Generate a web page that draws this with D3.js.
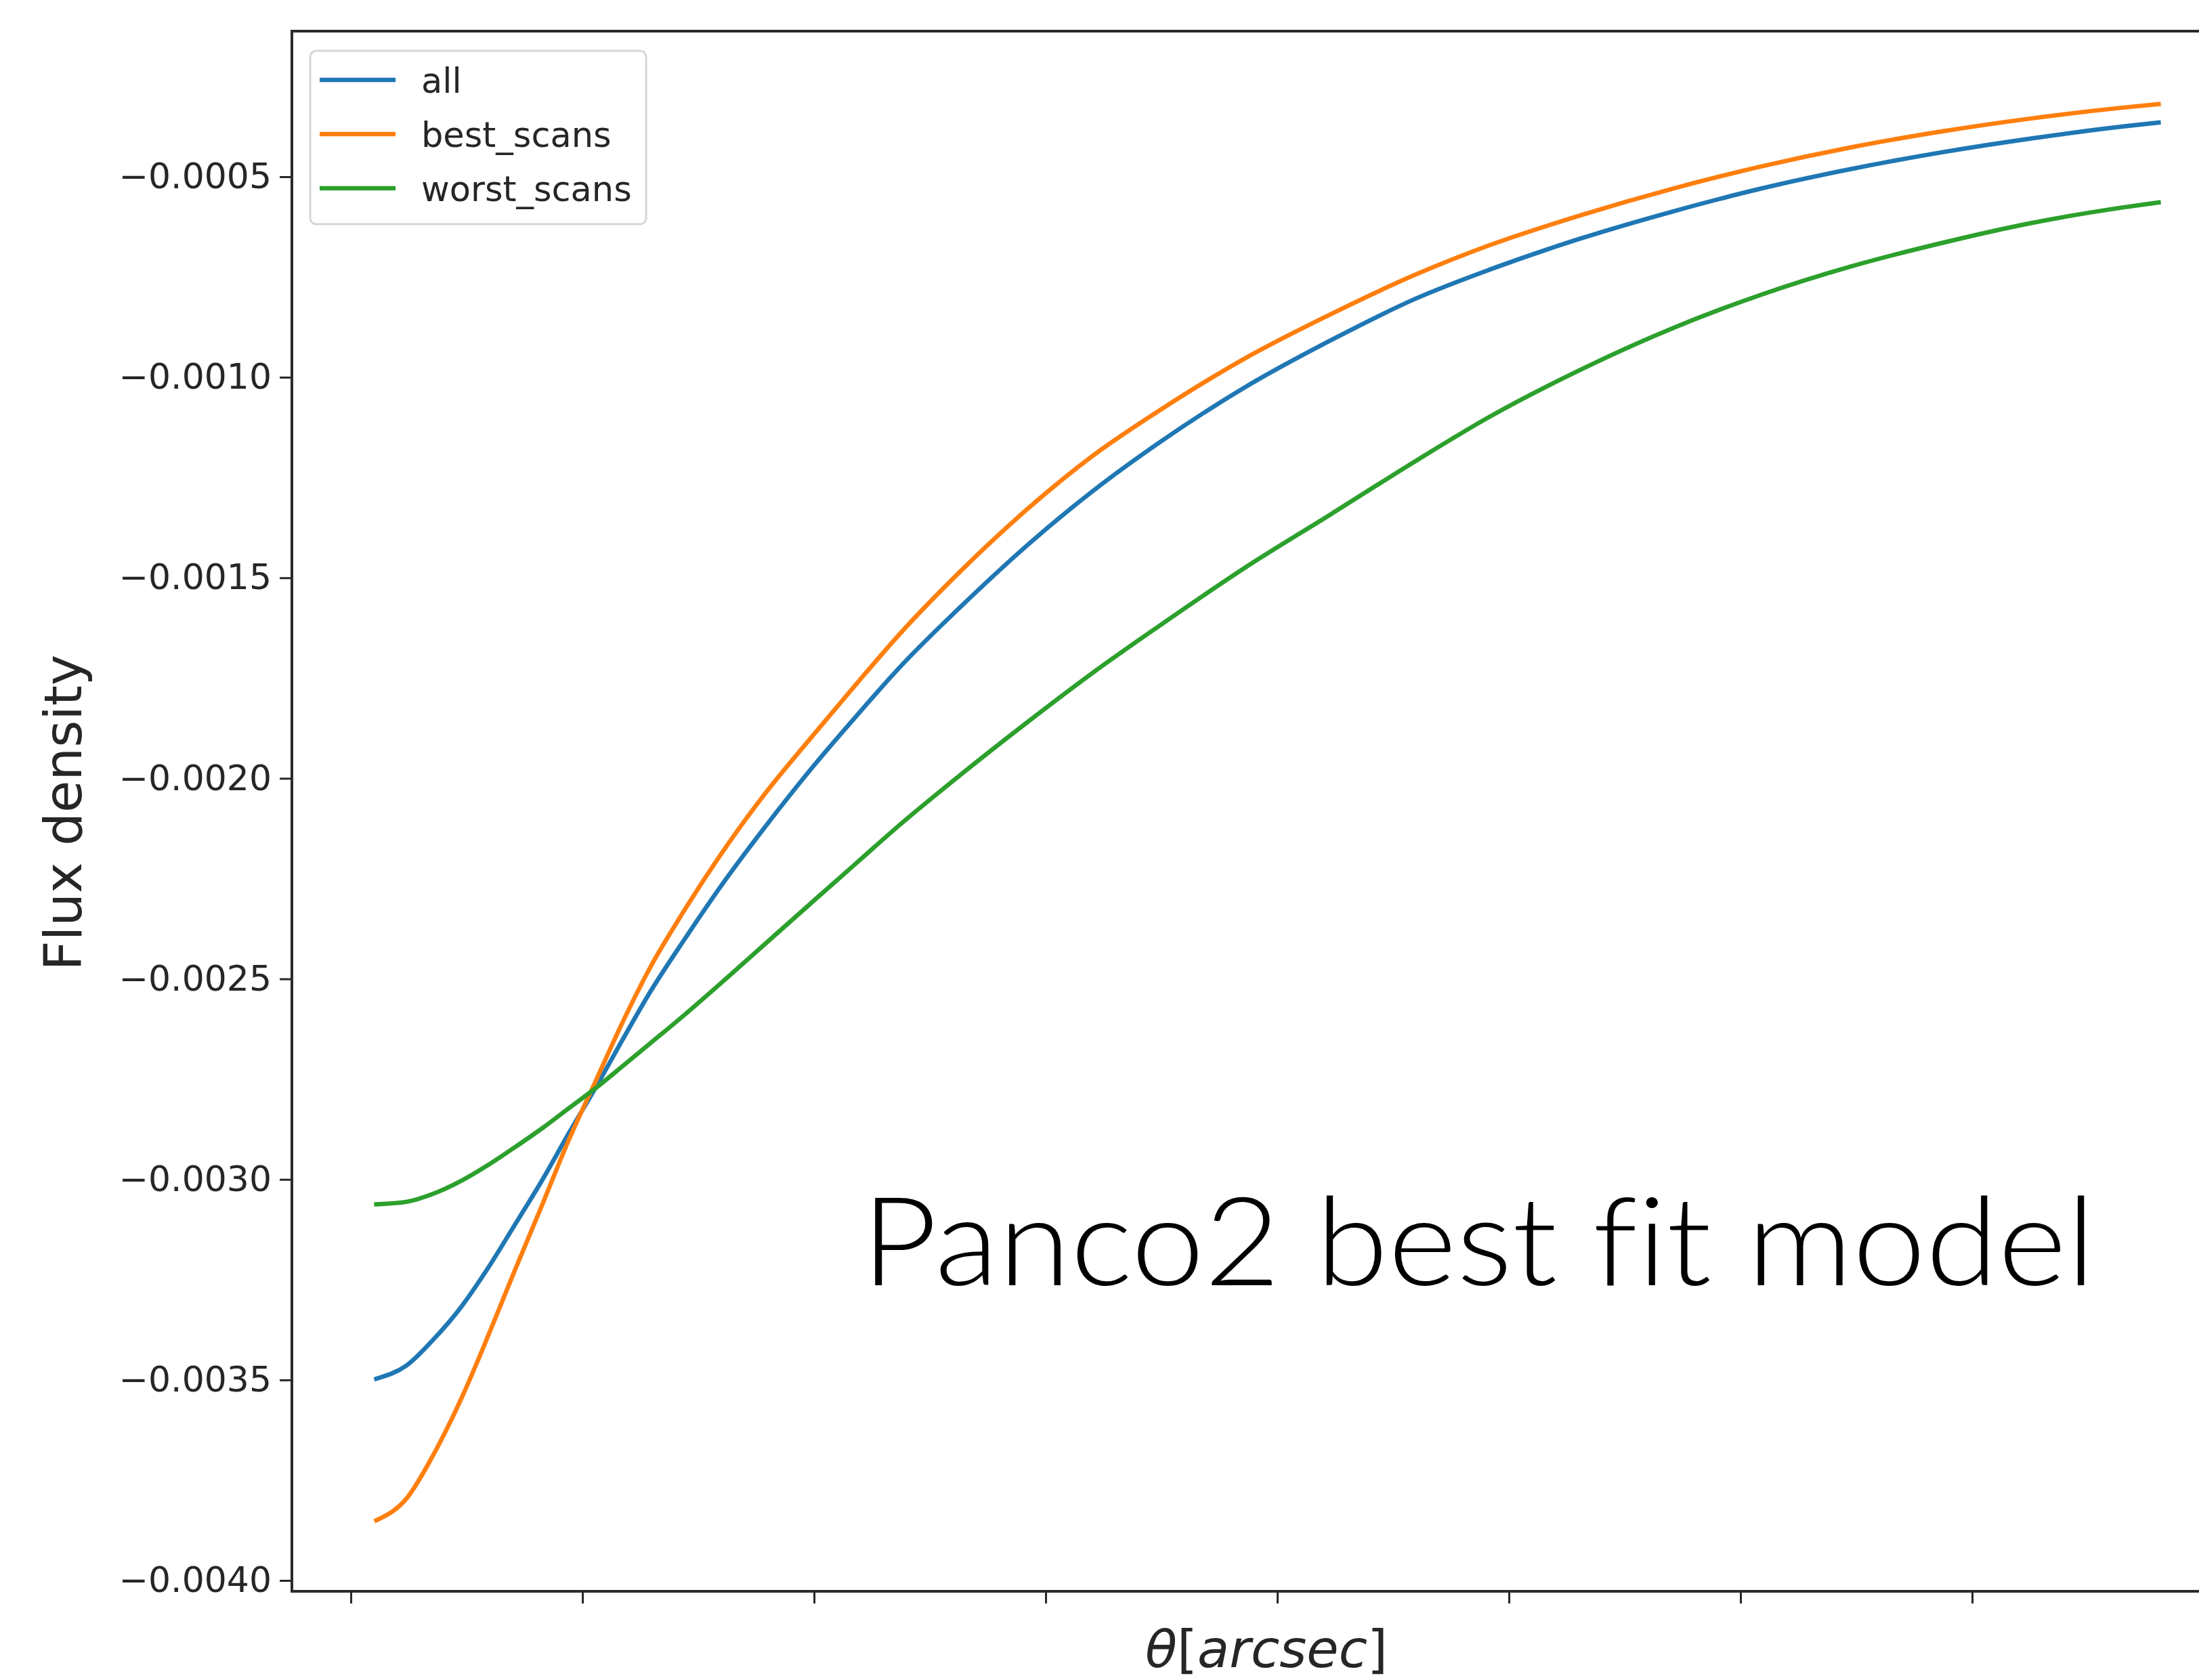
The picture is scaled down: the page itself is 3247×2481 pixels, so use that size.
<!DOCTYPE html>
<html>
<head>
<meta charset="utf-8">
<script src="https://cdn.jsdelivr.net/npm/d3@7"></script>
<style>
    body { margin: 0; background: #ffffff; }
    #charts { width: 3247px; height: 2481px; overflow: hidden; }
    .axis_text { font-family: "DejaVu Sans", sans-serif; fill: #262626; }
</style>
</head>
<body>
<div id="charts"></div>
<script>
// Radius values (arcsec).
const theta = [2.2, 4.8, 7.1, 9.5, 11.8, 14.1, 16.5, 18.8, 21.2, 23.5, 25.8, 28.8, 32.3, 35.8, 39.9, 43.7,
    47.4, 52.7, 58.6, 64.1, 69.7, 77.2, 84.6, 92.1, 98.3, 106.2, 114.1, 121.7, 129.5, 137.4, 145.0, 152.9, 156.1];

// Flux density profiles.
const all_scans = [-0.003497, -0.003464, -0.003400, -0.003319, -0.003223, -0.003116, -0.003003, -0.002886,
    -0.002768, -0.002650, -0.002535, -0.002402, -0.002255, -0.002120, -0.001971, -0.001843, -0.001723,
    -0.001571, -0.001414, -0.001283, -0.001165, -0.001025, -0.000908, -0.000802, -0.000732, -0.000654,
    -0.000587, -0.000530, -0.000481, -0.000439, -0.000405, -0.000375, -0.000365];
const best_scans = [-0.003850, -0.003796, -0.003688, -0.003549, -0.003394, -0.003231, -0.003065, -0.002903,
    -0.002751, -0.002606, -0.002474, -0.002329, -0.002175, -0.002037, -0.001893, -0.001763, -0.001640,
    -0.001482, -0.001324, -0.001195, -0.001085, -0.000953, -0.000843, -0.000742, -0.000671, -0.000596,
    -0.000530, -0.000475, -0.000427, -0.000387, -0.000355, -0.000328, -0.000319];
const worst_scans = [-0.003062, -0.003056, -0.003036, -0.003004, -0.002965, -0.002921, -0.002873, -0.002823,
    -0.002771, -0.002717, -0.002662, -0.002590, -0.002502, -0.002412, -0.002307, -0.002210, -0.002116,
    -0.001990, -0.001856, -0.001736, -0.001622, -0.001475, -0.001342, -0.001206, -0.001099, -0.000981,
    -0.000878, -0.000795, -0.000724, -0.000665, -0.000616, -0.000577, -0.000564];

const series_names = ["all", "best_scans", "worst_scans"];
const series_colors = ["#1f77b4", "#ff7f0e", "#2ca02c"];

// Axis limits and ticks.
const x_limits = [-5.09, 164.15];
const y_limits = [-0.004027, -0.000137];
const x_ticks = [0, 20, 40, 60, 80, 100, 120, 140, 160];
const y_ticks = [-0.0040, -0.0035, -0.0030, -0.0025, -0.0020, -0.0015, -0.0010, -0.0005];

function draw_profiles() {
    let svg_width = 3247, svg_height = 2481;
    let margin = { top: 46, left: 431 },
        width = 2894,
        height = 2304;

    let svg = d3.select("#charts")
        .append("svg")
            .attr("width", svg_width)
            .attr("height", svg_height)
        .append("g")
            .attr("transform", "translate(" + margin.left + "," + margin.top + ")");

    // Define scales.
    let x_scale = d3.scaleLinear().domain(x_limits).range([0, width]);
    let y_scale = d3.scaleLinear().domain(y_limits).range([height, 0]);

    // Draw the lines.
    let data = [all_scans, best_scans, worst_scans];
    let line = d3.line()
        .curve(d3.curveMonotoneX)
        .x((d, i) => x_scale(theta[i]))
        .y(d => y_scale(d));
    svg.selectAll(".profile")
        .data(data)
        .enter()
        .append("path")
            .attr("class", "profile")
            .attr("fill", "none")
            .attr("stroke", (d, i) => series_colors[i])
            .attr("stroke-width", 6.5)
            .attr("stroke-linejoin", "round")
            .attr("stroke-linecap", "square")
            .attr("d", line);

    // Add the X axis (tick labels are cut off in the source).
    let x_axis = svg.append("g")
        .attr("transform", "translate(0," + height + ")")
        .call(d3.axisBottom(x_scale).tickValues(x_ticks).tickFormat("").tickSize(18).tickSizeOuter(0));
    x_axis.select(".domain").remove();
    x_axis.selectAll(".tick line").attr("stroke", "#262626").attr("stroke-width", 3);

    // Add the Y axis.
    let y_axis = svg.append("g")
        .call(d3.axisLeft(y_scale).tickValues(y_ticks).tickFormat(d3.format(".4f")).tickSize(18).tickPadding(12).tickSizeOuter(0));
    y_axis.select(".domain").remove();
    y_axis.selectAll(".tick line").attr("stroke", "#262626").attr("stroke-width", 3);
    y_axis.selectAll(".tick text")
        .attr("class", "axis_text")
        .style("font-size", "52px");

    // Spines.
    let spine = d3.path();
    spine.moveTo(width + 200, 0);
    spine.lineTo(0, 0);
    spine.lineTo(0, height);
    spine.lineTo(width + 200, height);
    svg.append("path")
        .attr("d", spine.toString())
        .attr("fill", "none")
        .attr("stroke", "#2a2a2a")
        .attr("stroke-width", 4);

    // Add the Y axis label.
    svg.append("text")
        .attr("class", "axis_text")
        .attr("transform", "translate(" + (120 - margin.left) + "," + (1200 - margin.top) + ") rotate(-90)")
        .style("text-anchor", "middle")
        .style("font-size", "77px")
        .text("Flux density");

    // Add the X axis label.
    let x_label = svg.append("text")
        .attr("class", "axis_text")
        .attr("x", 1870 - margin.left)
        .attr("y", 2462 - margin.top)
        .style("text-anchor", "middle")
        .style("font-size", "77px");
    x_label.append("tspan").style("font-style", "italic").text("θ");
    x_label.append("tspan").text("[");
    x_label.append("tspan").style("font-style", "italic").text("arcsec");
    x_label.append("tspan").text("]");

    // Legend.
    let legend = svg.append("g")
        .attr("transform", "translate(" + (458 - margin.left) + "," + (75 - margin.top) + ")");
    legend.append("rect")
        .attr("width", 496)
        .attr("height", 256)
        .attr("rx", 9)
        .attr("fill", "#ffffff")
        .attr("fill-opacity", 0.8)
        .attr("stroke", "#d6d6d6")
        .attr("stroke-width", 3);
    let entries = legend.selectAll(".entry")
        .data(series_names)
        .enter()
        .append("g")
            .attr("class", "entry")
            .attr("transform", (d, i) => "translate(0," + (43 + i * 80) + ")");
    entries.append("line")
        .attr("x1", 14)
        .attr("x2", 126)
        .attr("stroke", (d, i) => series_colors[i])
        .attr("stroke-width", 6.5);
    entries.append("text")
        .attr("class", "axis_text")
        .attr("x", 164)
        .attr("y", 19)
        .style("font-size", "51px")
        .text(d => d);

    // Annotation.
    svg.append("text")
        .attr("x", 1272 - margin.left)
        .attr("y", 1898 - margin.top)
        .attr("textLength", 1822)
        .attr("lengthAdjust", "spacingAndGlyphs")
        .style("font-family", "Lato, 'Open Sans', sans-serif")
        .style("font-weight", 300)
        .style("font-size", "182px")
        .style("font-variant-ligatures", "none")
        .style("fill", "#000000")
        .text("Panco2 best fit model");
}

draw_profiles();
</script>
</body>
</html>
